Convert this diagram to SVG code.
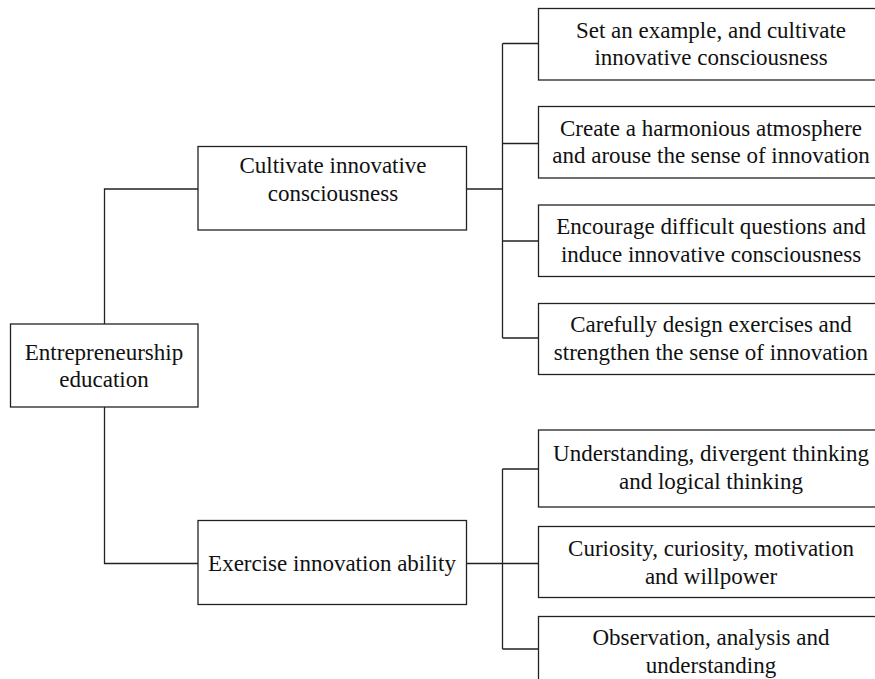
<svg xmlns="http://www.w3.org/2000/svg" width="875" height="679" viewBox="0 0 875 679">
<style>
rect{fill:#fff;stroke:#222;stroke-width:1.3}
text{font-family:"Liberation Serif","Times New Roman",serif;font-size:23px;fill:#111;text-anchor:middle}
.c{fill:none;stroke:#222;stroke-width:1.3}
</style>
<rect x="0" y="0" width="875" height="679" style="fill:#fff;stroke:none"/>
<g id="connectors">
<path class="c" d="M104.5,324 V189 H198 M104.5,407 V563.5 H198"/>
<path class="c" d="M466.5,189 H502.5 M502.5,43.5 V338 M502.5,43.5 H538.5 M502.5,143.5 H538.5 M502.5,241 H538.5 M502.5,338 H538.5"/>
<path class="c" d="M466.5,563.5 H502.5 M502.5,469 V649 M502.5,469 H538.5 M502.5,563.5 H538.5 M502.5,649 H538.5"/>
</g>
<g id="root"><rect x="10.5" y="324" width="187.5" height="83"/><text x="104" y="360">Entrepreneurship</text><text x="104" y="387">education</text></g>
<g id="cultivate"><rect x="198" y="146.5" width="268.5" height="83.5"/><text x="333" y="173">Cultivate innovative</text><text x="333" y="201">consciousness</text></g>
<g id="exercise"><rect x="198" y="520.5" width="268.5" height="84"/><text x="332" y="571">Exercise innovation ability</text></g>
<g id="c1"><rect x="538.5" y="8.5" width="346" height="71.5"/><text x="711" y="37.5">Set an example, and cultivate</text><text x="711" y="65">innovative consciousness</text></g>
<g id="c2"><rect x="538.5" y="106.5" width="346" height="71.5"/><text x="711" y="135.5">Create a harmonious atmosphere</text><text x="711" y="163">and arouse the sense of innovation</text></g>
<g id="c3"><rect x="538.5" y="205" width="346" height="71.5"/><text x="711" y="234">Encourage difficult questions and</text><text x="711" y="261.5">induce innovative consciousness</text></g>
<g id="c4"><rect x="538.5" y="303.5" width="346" height="71"/><text x="711" y="332">Carefully design exercises and</text><text x="711" y="359.5">strengthen the sense of innovation</text></g>
<g id="e1"><rect x="538.5" y="430" width="346" height="77"/><text x="711" y="461">Understanding, divergent thinking</text><text x="711" y="488.5">and logical thinking</text></g>
<g id="e2"><rect x="538.5" y="526.5" width="346" height="71"/><text x="711" y="556">Curiosity, curiosity, motivation</text><text x="711" y="583.5">and willpower</text></g>
<g id="e3"><rect x="538.5" y="616.5" width="346" height="80"/><text x="711" y="645">Observation, analysis and</text><text x="711" y="672.5">understanding</text></g>
</svg>
